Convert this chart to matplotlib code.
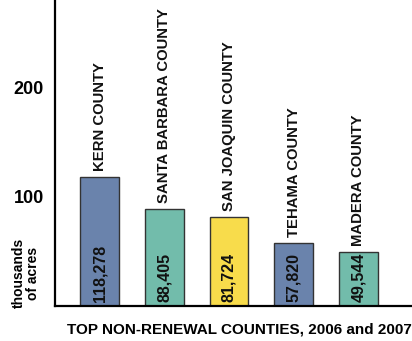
import matplotlib.pyplot as plt
import numpy as np

counties = ["KERN COUNTY", "SANTA BARBARA COUNTY", "SAN JOAQUIN COUNTY",
            "TEHAMA COUNTY", "MADERA COUNTY"]
acres = [118278, 88405, 81724, 57820, 49544]
colors = ["#6a83ac", "#72bcab", "#f8dc4b", "#6a83ac", "#72bcab"]
yticks = [100, 200]

plt.rcParams["font.family"] = ["Liberation Sans", "DejaVu Sans"]
plt.rcParams["font.weight"] = "bold"

fig = plt.figure(figsize=(4.12, 3.41), dpi=100)
ax = fig.add_axes([55 / 412, 35 / 341, 357 / 412, 306 / 341])

x = np.arange(len(counties))
vals = np.array(acres) / 1000.0
ax.bar(x, vals, width=0.6, color=colors, edgecolor="#333333", linewidth=1)

for xi, v, name in zip(x, vals, counties):
    ax.text(xi, 3.5, f"{int(v * 1000):,}", rotation=90, ha="center", va="bottom",
            fontsize=11.5, fontweight="bold", color="#111111")
    ax.text(xi, v + 5.5, name, rotation=90, ha="center", va="bottom",
            fontsize=10.7, fontweight="bold", color="#111111")

ax.set_xlim(-0.69, 4.83)
ax.set_ylim(0, 280)
ax.set_xticks([])
ax.set_yticks(yticks)
ax.set_yticklabels([str(t) for t in yticks], fontsize=13, fontweight="bold")
ax.tick_params(axis="y", length=0, pad=8)
for s in ["top", "right"]:
    ax.spines[s].set_visible(False)
ax.spines["left"].set_linewidth(1.6)
ax.spines["bottom"].set_linewidth(1.6)

fig.text(26 / 412, 1 - 273 / 341, "thousands\nof acres", rotation=90, ha="center",
         va="center", fontsize=10, fontweight="bold", linespacing=0.95)
fig.text(67 / 412, 1 - 330 / 341, "TOP NON-RENEWAL COUNTIES, 2006 and 2007",
         ha="left", va="center", fontsize=11, fontweight="bold")

fig.savefig("out.png", dpi=100)
